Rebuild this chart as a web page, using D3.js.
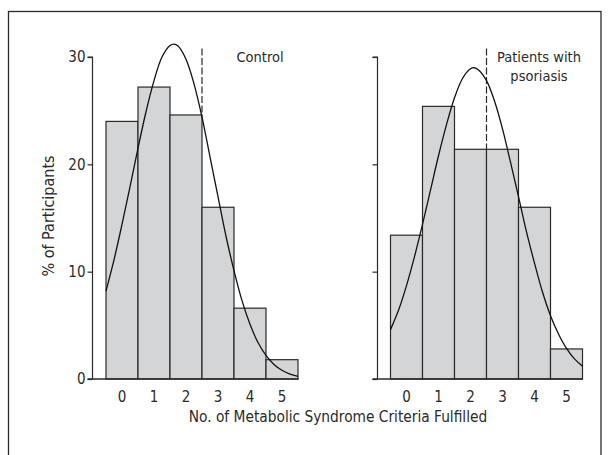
<!DOCTYPE html>
<html>
<head>
<meta charset="utf-8">
<script src="https://cdn.jsdelivr.net/npm/d3@7"></script>
<style>
  body { margin: 0; background: #fff; }
  svg { display: block; }
  text { font-family: "DejaVu Sans Condensed", "Liberation Sans Narrow", sans-serif; fill: #2a2a2a; }
</style>
</head>
<body>
<svg id="chart" width="611" height="455"></svg>
<script>
// ---- data ----
const categories = [0, 1, 2, 3, 4, 5];
const controlValues = [24.0, 27.2, 24.6, 16.0, 6.6, 1.8];
const psoriasisValues = [13.4, 25.4, 21.4, 21.4, 16.0, 2.8];
const yTicks = [0, 10, 20, 30];
// fitted curves: [criteria, %]
const controlCurveX = [-0.5,-0.25,0,0.25,0.5,0.75,1,1.25,1.5,1.62,1.75,2,2.25,2.5,2.75,3,3.25,3.5,3.75,4,4.25,4.5,4.75,5,5.25,5.5];
const controlCurveY = [8.2,11.1,14.4,17.9,21.5,24.9,27.8,30.0,31.07,31.2,31.03,29.8,27.5,24.4,20.7,17.0,13.3,10.1,7.3,5.1,3.4,2.2,1.36,0.81,0.46,0.25];
const psoriasisCurveX = [-0.5,-0.25,0,0.25,0.5,0.75,1,1.25,1.5,1.75,2,2.11,2.25,2.5,2.75,3,3.25,3.5,3.75,4,4.25,4.5,4.75,5,5.25,5.5];
const psoriasisCurveY = [4.6,6.4,8.7,11.4,14.4,17.6,20.8,23.7,26.2,28.0,28.9,29.0,28.8,27.8,25.9,23.3,20.2,17.0,13.7,10.8,8.1,5.9,4.2,2.85,1.87,1.19];
const cutoff = 2.5;      // dashed line position (criteria)
const cutoffTop = 30.8;  // dashed line top (%)
const panelLabels = [["Control"], ["Patients with", "psoriasis"]];

// ---- drawing ----
const svg = d3.select("#chart");
const ink = "#2a2a2a";

// frame
svg.append("rect").attr("x", 8.5).attr("y", 11.5).attr("width", 592.5).attr("height", 470)
  .attr("fill", "none").attr("stroke", ink).attr("stroke-width", 1.3);

const y = d3.scaleLinear().domain([0, 30]).range([379, 57]);

const panels = [
  { values: controlValues, cx: controlCurveX, cy: controlCurveY, x0: 106, x1: 298, axisX: 92.5, labels: true, text: panelLabels[0], tx: 260 },
  { values: psoriasisValues, cx: psoriasisCurveX, cy: psoriasisCurveY, x0: 390.5, x1: 582.5, axisX: 377.5, labels: false, text: panelLabels[1], tx: 539 }
];

panels.forEach(p => {
  const xb = d3.scaleBand().domain(categories).range([p.x0, p.x1]).padding(0);
  const xl = d3.scaleLinear().domain([-0.5, 5.5]).range([p.x0, p.x1]);
  const g = svg.append("g");

  // bars
  g.selectAll("rect.bar").data(p.values).enter().append("rect")
    .attr("class", "bar")
    .attr("x", (d, i) => xb(categories[i]))
    .attr("y", d => y(d))
    .attr("width", xb.bandwidth())
    .attr("height", d => y(0) - y(d))
    .attr("fill", "#d4d5d7")
    .attr("stroke", ink).attr("stroke-width", 1.2);

  // dashed cutoff line, visible above the bars
  g.append("line")
    .attr("x1", xl(cutoff)).attr("x2", xl(cutoff))
    .attr("y1", y(cutoffTop)).attr("y2", y(d3.max([p.values[2], p.values[3]])))
    .attr("stroke", ink).attr("stroke-width", 1.2).attr("stroke-dasharray", "7,2.5");

  // curve
  const pts = p.cx.map((v, i) => [v, p.cy[i]]);
  g.append("path").datum(pts)
    .attr("d", d3.line().x(d => xl(d[0])).y(d => y(d[1])).curve(d3.curveCatmullRom))
    .attr("fill", "none").attr("stroke", "#111").attr("stroke-width", 1.3);

  // y axis
  const ya = d3.axisLeft(y).tickValues(yTicks).tickSize(5).tickPadding(2)
    .tickFormat(p.labels ? d3.format("d") : () => "");
  const yg = svg.append("g").attr("transform", `translate(${p.axisX},0)`).call(ya);
  yg.select(".domain").attr("stroke", ink).attr("stroke-width", 1.2)
    .attr("d", `M-5,${y(30)}H0V${y(0)}`);
  yg.selectAll(".tick line").attr("stroke", ink).attr("stroke-width", 1.2);
  yg.selectAll(".tick text").style("font-size", "15px").attr("fill", ink)
    .style("font-family", '"DejaVu Sans Condensed", sans-serif');

  // baseline
  svg.append("line").attr("x1", p.axisX - 5).attr("x2", p.x1 + 0.5)
    .attr("y1", y(0)).attr("y2", y(0)).attr("stroke", ink).attr("stroke-width", 1.4);

  // x tick labels
  const xa = d3.axisBottom(xb).tickSize(0).tickPadding(12);
  const xg = svg.append("g").attr("transform", `translate(0,${y(0)})`).call(xa);
  xg.select(".domain").remove();
  xg.selectAll(".tick text").style("font-size", "15px").attr("fill", ink)
    .style("font-family", '"DejaVu Sans Condensed", sans-serif');

  // panel label
  p.text.forEach((t, i) => {
    svg.append("text").attr("x", p.tx).attr("y", 62 + i * 18.5)
      .attr("text-anchor", "middle").style("font-size", "14.5px").text(t);
  });
});

// axis titles
svg.append("text").attr("transform", "translate(54,216) rotate(-90)")
  .attr("text-anchor", "middle").style("font-size", "16px").text("% of Participants");
svg.append("text").attr("x", 338).attr("y", 422)
  .attr("text-anchor", "middle").style("font-size", "15.3px").text("No. of Metabolic Syndrome Criteria Fulfilled");
</script>
</body>
</html>
